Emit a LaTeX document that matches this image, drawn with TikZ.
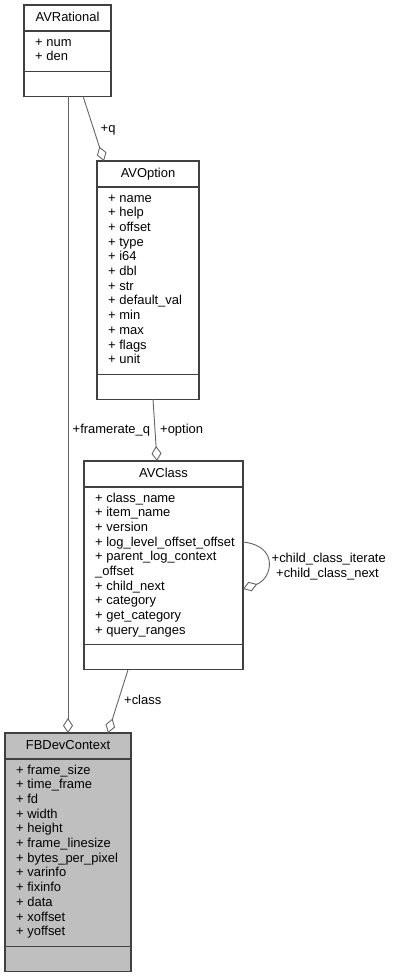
\documentclass[tikz,border=0pt]{standalone}
\usepackage{fontspec}
\setmainfont{Liberation Sans}
\usetikzlibrary{arrows.meta,calc}

\definecolor{boxline}{HTML}{404040}
\definecolor{edgeline}{HTML}{646464}
\definecolor{focusfill}{HTML}{BFBFBF}

\tikzset{
  classbox/.style={rectangle, draw=boxline, line width=1.3bp, inner sep=0pt, outer sep=0pt, anchor=north west},
  classtitle/.style={font=\fontsize{13}{15}\selectfont, anchor=base, inner sep=0pt},
  member/.style={font=\fontsize{13}{15}\selectfont, anchor=base west, inner sep=0pt},
  compartment/.style={draw=boxline, line width=1.3bp},
  assoc/.style={draw=edgeline, line width=0.9bp, -{Diamond[open, length=15bp, width=10bp]}},
  role/.style={font=\fontsize{13}{15}\selectfont, anchor=base west, inner sep=0pt},
}

% #1 id, #2 left, #3 top, #4 width, #5 number of member lines, #6 fill, #7 title, #8 members
\newcommand\classblock[8]{%
  \pgfmathsetmacro\attrbottom{26+15+(#5-1)*14.7+10.5}%
  \pgfmathsetmacro\boxheight{\attrbottom+25}%
  \node[classbox, fill=#6, minimum width=#4bp, minimum height=\boxheight bp] (#1) at (#2,#3) {};
  \node[classtitle] (#1-title) at ($(#1.north)+(0,16)$) {#7};
  \draw[compartment] ($(#1.north west)+(0,26)$) -- ($(#1.north east)+(0,26)$);
  \draw[compartment] ($(#1.north west)+(0,\attrbottom)$) -- ($(#1.north east)+(0,\attrbottom)$);
  \foreach \m [count=\k] in {#8}
    \node[member] (#1-m\k) at ($(#1.north west)+(11,{26+15+(\k-1)*14.7})$) {\m};
}

\begin{document}
\begin{tikzpicture}[x=1bp, y=-1bp]
  \useasboundingbox (0,0) rectangle (394,977);

  \classblock{avr}{24}{5}{87}{2}{white}{AVRational}{+ num, + den}
  \classblock{avo}{97}{161}{102}{12}{white}{AVOption}{+ name, + help, + offset, + type, + i64, + dbl, + str, + default\_val, + min, + max, + flags, + unit}
  \classblock{avc}{84}{461}{159}{10}{white}{AVClass}{+ class\_name, + item\_name, + version, + log\_level\_offset\_offset, + parent\_log\_context, \_offset, + child\_next, + category, + get\_category, + query\_ranges}
  \classblock{fbd}{5}{733}{126}{12}{focusfill}{FBDevContext}{+ frame\_size, + time\_frame, + fd, + width, + height, + frame\_linesize, + bytes\_per\_pixel, + varinfo, + fixinfo, + data, + xoffset, + yoffset}

  % associations (diamond at the owning class)
  \draw[assoc] ($(avr.south west)+(44,0)$) -- ($(fbd.north west)+(63,0)$);
  \draw[assoc] ($(avr.south west)+(59,0)$) -- ($(avo.north west)+(7,0)$);
  \draw[assoc] ($(avo.south west)+(56,0)$) -- ($(avc.north west)+(73,0)$);
  \draw[assoc] ($(avc.south west)+(44,0)$) -- ($(fbd.north west)+(103,0)$);
  \draw[assoc] ($(avc.north east)+(0,81)$) .. controls ($(avc.north east)+(37,85)$) and ($(avc.north east)+(29,118)$) .. ($(avc.north east)+(0,128)$);

  % role names
  \node[role] (lbl-q) at (100.5,132) {+q};
  \node[role] (lbl-framerate) at (72.5,433) {+framerate\_q};
  \node[role] (lbl-option) at (160,433) {+option};
  \node[role] (lbl-iterate) at (271.5,562) {+child\_class\_iterate};
  \node[role] (lbl-next) at (276,577) {+child\_class\_next};
  \node[role] (lbl-class) at (124,704) {+class};
\end{tikzpicture}
\end{document}
